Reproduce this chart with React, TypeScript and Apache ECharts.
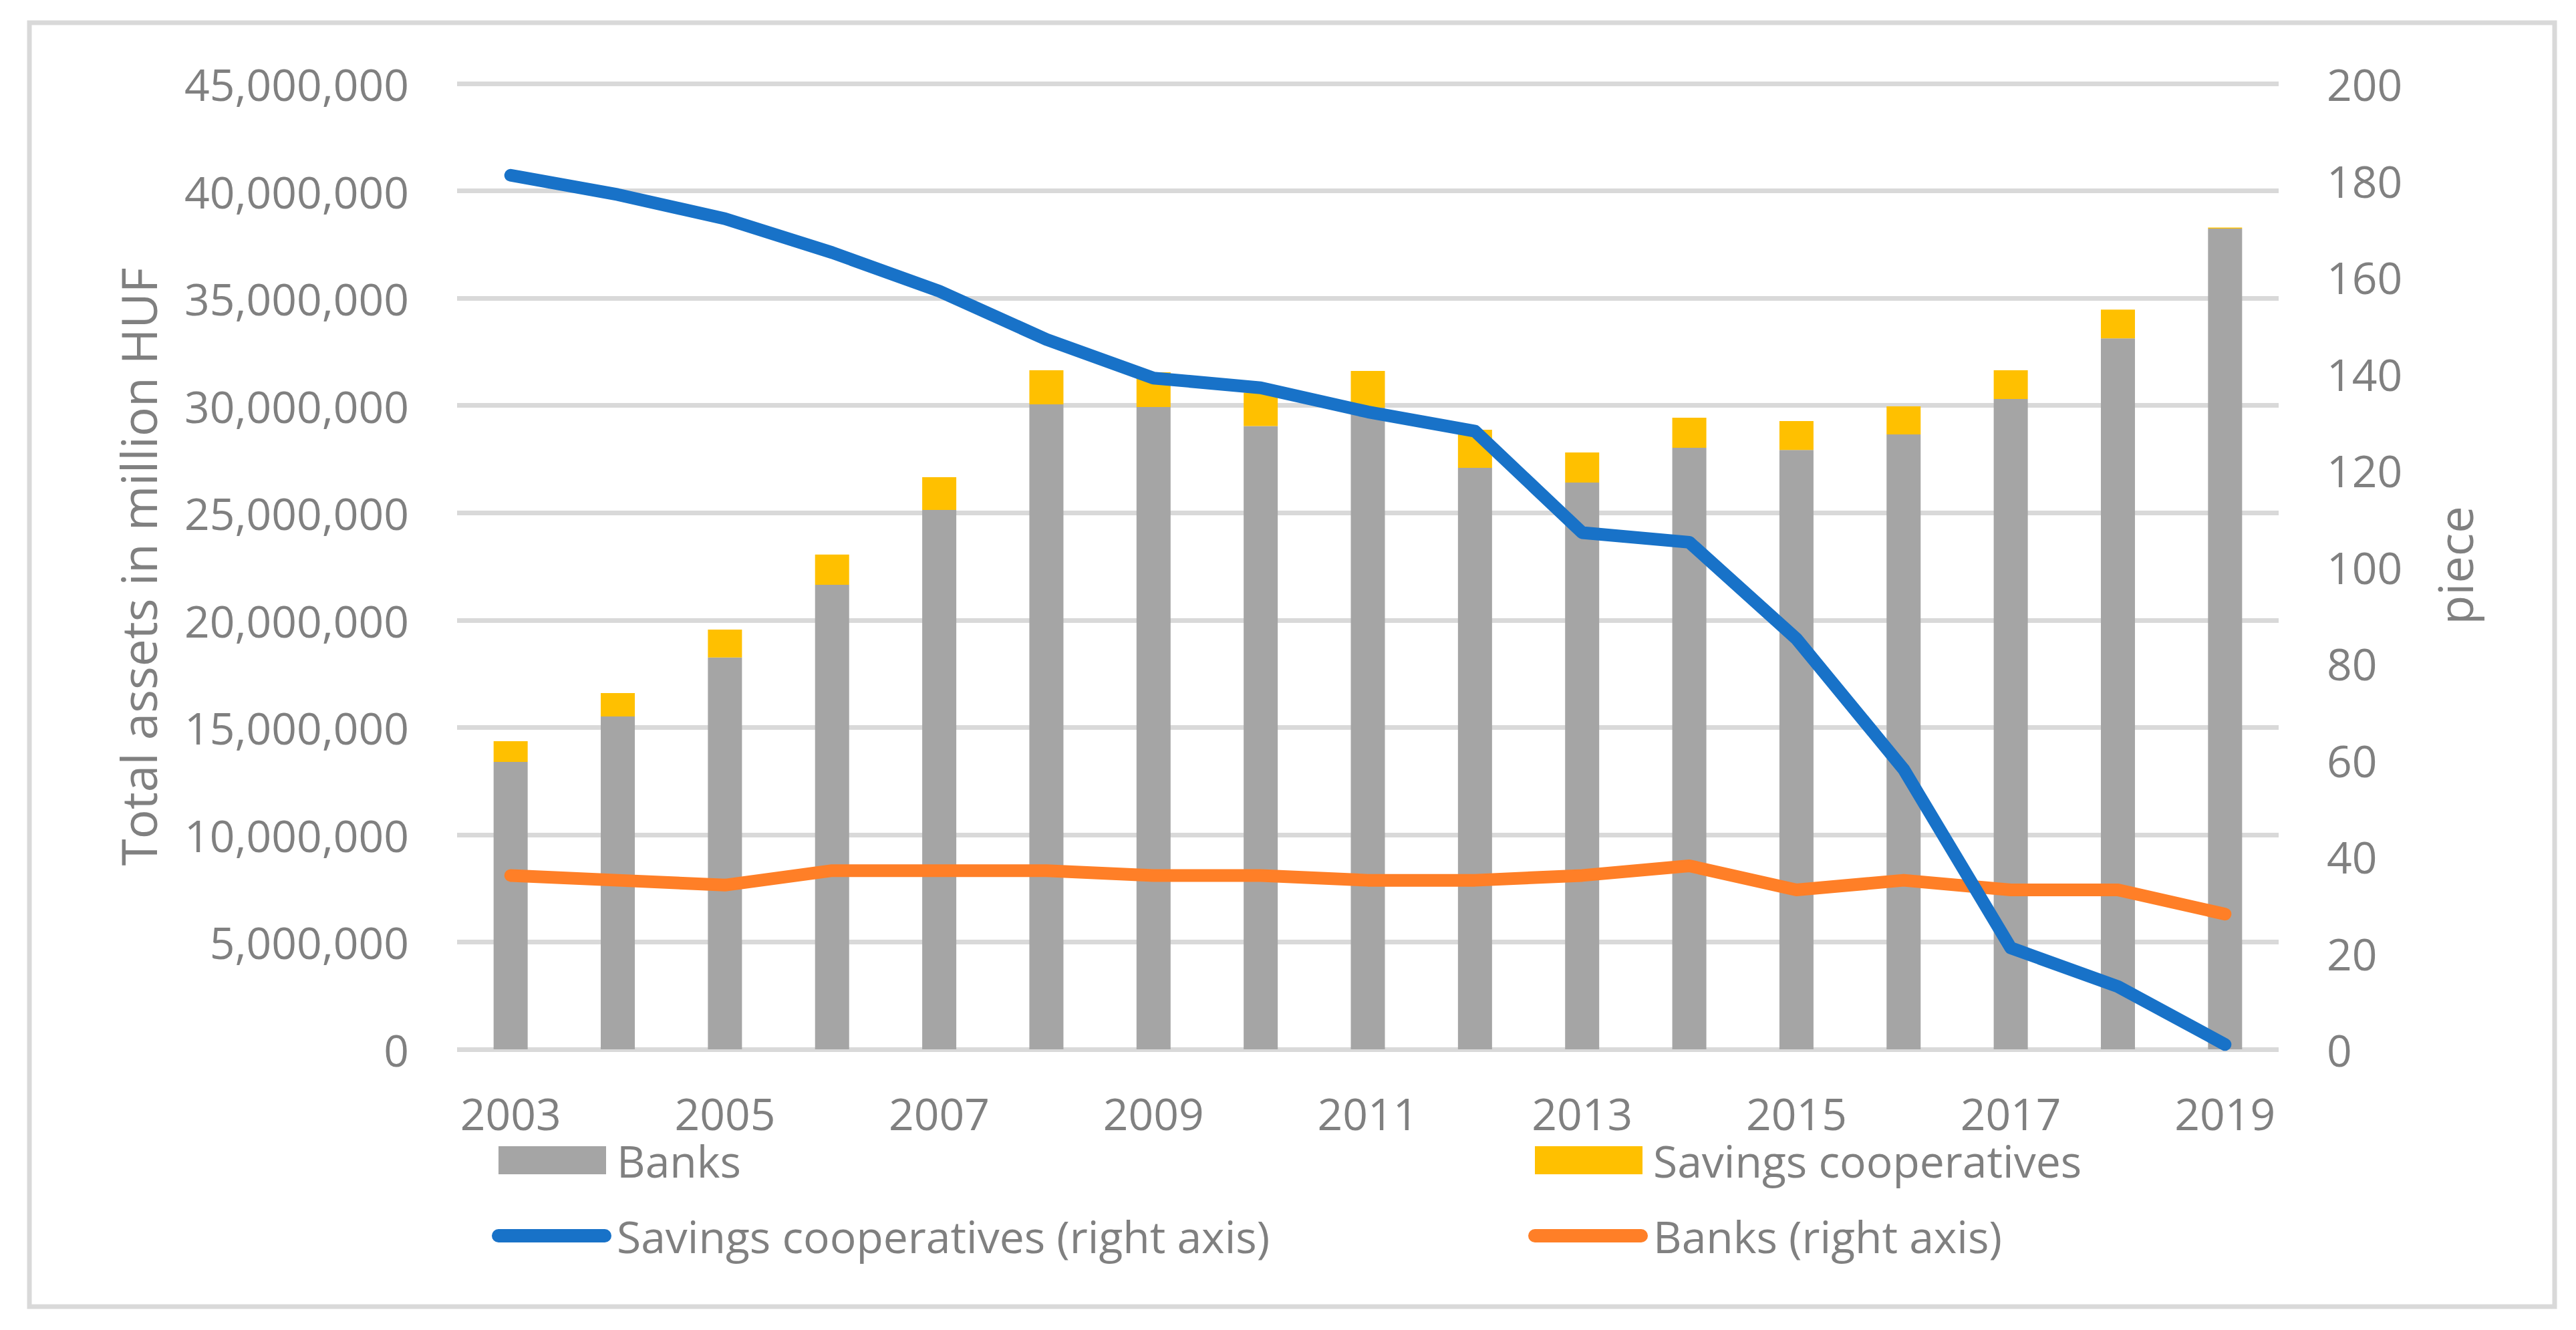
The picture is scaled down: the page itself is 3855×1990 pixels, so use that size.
import { useEffect, useRef } from 'react';
import * as echarts from 'echarts';

const years = ['2003', '2004', '2005', '2006', '2007', '2008', '2009', '2010', '2011', '2012', '2013', '2014', '2015', '2016', '2017', '2018', '2019'];
const banksAssets = [13390000, 15510000, 18260000, 21640000, 25130000, 30050000, 29930000, 29040000, 29900000, 27090000, 26410000, 28030000, 27930000, 28650000, 30300000, 33130000, 38240000];
const coopAssets = [970000, 1090000, 1300000, 1410000, 1530000, 1590000, 1620000, 1560000, 1710000, 1780000, 1400000, 1400000, 1340000, 1310000, 1340000, 1340000, 50000];
const coopCount = [181, 177, 172, 165, 157, 147, 139, 137, 132, 128, 107, 105, 85, 58, 21, 13, 1];
const bankCount = [36, 35, 34, 37, 37, 37, 36, 36, 35, 35, 36, 38, 33, 35, 33, 33, 28];

const FONT = 'Open Sans';
const TXT = '#808080';
const GRID = '#d9d9d9';
const PILL = 'path://M10,0 L170,0 A10,10 0 0 1 170,20 L10,20 A10,10 0 0 1 10,0 Z';

export default function App() {
  const ref = useRef<HTMLDivElement>(null);
  useEffect(() => {
    const chart = echarts.init(ref.current!, null, { renderer: 'svg' });
    const legendText = (pad: number) => ({
      fontSize: 66,
      color: TXT,
      fontFamily: FONT,
      lineHeight: 56,
      padding: [0, 0, 0, pad],
    });
    chart.setOption({
      animation: false,
      backgroundColor: '#ffffff',
      textStyle: { fontFamily: FONT },
      grid: { left: 684, right: 445, top: 125, bottom: 420, containLabel: false },
      legend: [
        { left: 746, top: 1703, padding: 0, selectedMode: false, itemWidth: 161, itemHeight: 42, data: [{ name: 'Banks', icon: 'rect' }], textStyle: legendText(11) },
        { left: 2297, top: 1703, padding: 0, selectedMode: false, itemWidth: 161, itemHeight: 42, data: [{ name: 'Savings cooperatives', icon: 'rect' }], textStyle: legendText(11) },
        { left: 736, top: 1816, padding: 0, selectedMode: false, itemWidth: 179, itemHeight: 20, symbolKeepAspect: false, data: [{ name: 'Savings cooperatives (right axis)', icon: PILL }], textStyle: legendText(3) },
        { left: 2287, top: 1816, padding: 0, selectedMode: false, itemWidth: 179, itemHeight: 20, symbolKeepAspect: false, data: [{ name: 'Banks (right axis)', icon: PILL }], textStyle: legendText(3) },
      ],
      xAxis: {
        type: 'category',
        data: years,
        axisLine: { show: false },
        axisTick: { show: false },
        axisLabel: { interval: 1, fontSize: 66, lineHeight: 60, color: TXT, fontFamily: FONT, margin: 65 },
      },
      yAxis: [
        {
          type: 'value',
          min: 0,
          max: 45000000,
          interval: 5000000,
          axisLine: { show: false },
          axisTick: { show: false },
          splitLine: { lineStyle: { color: GRID, width: 7 } },
          axisLabel: {
            fontSize: 66,
            color: TXT,
            fontFamily: FONT,
            margin: 72,
            formatter: (v: number) => v.toLocaleString('en-US'),
          },
        },
        {
          type: 'value',
          min: 0,
          max: 200,
          interval: 20,
          position: 'right',
          axisLine: { show: false },
          axisTick: { show: false },
          splitLine: { show: false },
          axisLabel: { fontSize: 66, color: TXT, fontFamily: FONT, margin: 72 },
        },
      ],
      graphic: [
        {
          type: 'rect',
          shape: { x: 44, y: 34, width: 3779, height: 1921 },
          style: { fill: 'none', stroke: GRID, lineWidth: 7 },
          silent: true,
          z: -1,
        },
        {
          type: 'text',
          x: 206,
          y: 848,
          rotation: Math.PI / 2,
          style: { text: 'Total assets in million HUF', fontSize: 73, fill: TXT, fontFamily: FONT, align: 'center', verticalAlign: 'middle' },
        },
        {
          type: 'text',
          x: 3673,
          y: 846,
          rotation: Math.PI / 2,
          style: { text: 'piece', fontSize: 72, fill: TXT, fontFamily: FONT, align: 'center', verticalAlign: 'middle' },
        },
      ],
      series: [
        {
          name: 'Banks',
          type: 'bar',
          stack: 'assets',
          barWidth: 51,
          yAxisIndex: 0,
          itemStyle: { color: '#a5a5a5' },
          data: banksAssets,
          z: 2,
        },
        {
          name: 'Savings cooperatives',
          type: 'bar',
          stack: 'assets',
          barWidth: 51,
          yAxisIndex: 0,
          itemStyle: { color: '#ffc000' },
          data: coopAssets,
          z: 2,
        },
        {
          name: 'Savings cooperatives (right axis)',
          type: 'line',
          yAxisIndex: 1,
          symbol: 'none',
          showSymbol: false,
          itemStyle: { color: '#1872c8' },
          lineStyle: { color: '#1872c8', width: 19, cap: 'round', join: 'round' },
          data: coopCount,
          z: 4,
        },
        {
          name: 'Banks (right axis)',
          type: 'line',
          yAxisIndex: 1,
          symbol: 'none',
          showSymbol: false,
          itemStyle: { color: '#ff7f27' },
          lineStyle: { color: '#ff7f27', width: 19, cap: 'round', join: 'round' },
          data: bankCount,
          z: 3,
        },
      ],
    });
    return () => chart.dispose();
  }, []);
  return (
    <div
      ref={ref}
      style={{ position: 'fixed', left: 0, top: 0, width: 3855, height: 1990, background: '#ffffff' }}
    />
  );
}
